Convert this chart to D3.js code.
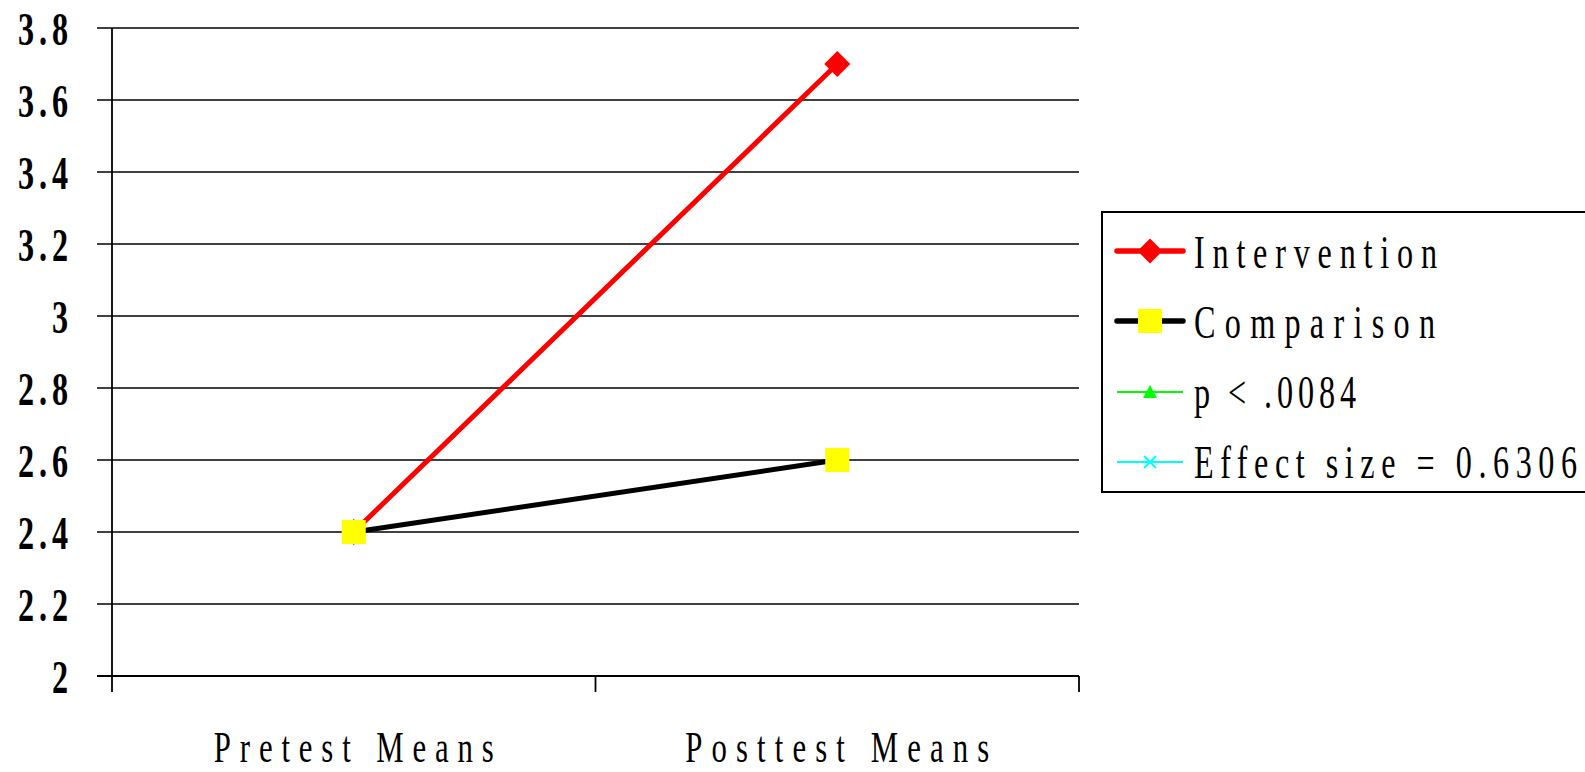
<!DOCTYPE html>
<html>
<head>
<meta charset="utf-8">
<script src="https://cdn.jsdelivr.net/npm/d3@7/dist/d3.min.js"></script>
<style>
  html, body { margin: 0; padding: 0; background: #fff; }
  svg { display: block; }
  text { font-family: "Liberation Serif", "Times New Roman", serif; }
</style>
</head>
<body>
<svg id="chart" width="1585" height="772"></svg>
<script>
// ---- data ----
const categories = ["Pretest Means", "Posttest Means"];
const intervention = [2.4, 3.7];
const comparison = [2.4, 2.6];
const yTicks = [2, 2.2, 2.4, 2.6, 2.8, 3, 3.2, 3.4, 3.6, 3.8];
const yTickLabels = ["2", "2.2", "2.4", "2.6", "2.8", "3", "3.2", "3.4", "3.6", "3.8"];
const legendLabels = ["Intervention", "Comparison", "p  < .0084", "Effect size = 0.6306"];

// ---- layout ----
const plot = { left: 112, right: 1079, top: 28, bottom: 676 };
const sx = 0.7; // horizontal compression of the text
const legendTextWidths = [243, 241, 162, 383];
const xLabelWidths = [280, 304];

const svg = d3.select("#chart");

const x = d3.scaleBand().domain(categories).range([plot.left, plot.right]).paddingInner(0).paddingOuter(0);
const y = d3.scaleLinear().domain([2, 3.8]).range([plot.bottom, plot.top]);
const cx = c => x(c) + x.bandwidth() / 2;

// gridlines + y ticks
svg.append("g").selectAll("line").data(yTicks).join("line")
  .attr("x1", plot.left - 15).attr("x2", plot.right)
  .attr("y1", d => y(d)).attr("y2", d => y(d))
  .attr("stroke", "#000").attr("stroke-width", d => d === 2 ? 2.2 : 1.7);

// y axis line
svg.append("line")
  .attr("x1", plot.left).attr("x2", plot.left)
  .attr("y1", plot.top).attr("y2", plot.bottom + 16)
  .attr("stroke", "#000").attr("stroke-width", 1.8);

// x ticks at category boundaries
const xBounds = categories.map(c => x(c)).concat([x(categories[categories.length - 1]) + x.bandwidth()]);
svg.append("g").selectAll("line").data(xBounds.slice(1)).join("line")
  .attr("x1", d => d).attr("x2", d => d)
  .attr("y1", plot.bottom).attr("y2", plot.bottom + 16)
  .attr("stroke", "#000").attr("stroke-width", 1.8);

// y labels
svg.append("g").selectAll("text").data(yTicks).join("text")
  .attr("transform", d => `translate(${68 + 5},${y(d) + 17}) scale(${sx},1)`)
  .attr("text-anchor", "end")
  .attr("font-size", 46).attr("font-weight", "bold")
  .attr("letter-spacing", 7)
  .text((d, i) => yTickLabels[i]);

// x labels
svg.append("g").selectAll("text").data(categories).join("text")
  .attr("transform", d => `translate(${cx(d)},762) scale(${sx},1)`)
  .attr("text-anchor", "middle")
  .attr("font-size", 44)
  .attr("textLength", (d, i) => xLabelWidths[i] / sx)
  .attr("lengthAdjust", "spacing")
  .text(d => d);

// series
const line = d3.line().x((d, i) => cx(categories[i])).y(d => y(d));
function diamondPath(s) { return `M0,${-s}L${s},0L0,${s}L${-s},0Z`; }

// Intervention
svg.append("path").datum(intervention).attr("d", line)
  .attr("fill", "none").attr("stroke", "#ff0000").attr("stroke-width", 5);
svg.append("g").selectAll("path").data(intervention).join("path")
  .attr("transform", (d, i) => `translate(${cx(categories[i])},${y(d)})`)
  .attr("d", diamondPath(13)).attr("fill", "#ff0000");

// Comparison
svg.append("path").datum(comparison).attr("d", line)
  .attr("fill", "none").attr("stroke", "#000").attr("stroke-width", 5);
svg.append("g").selectAll("rect").data(comparison).join("rect")
  .attr("x", (d, i) => cx(categories[i]) - 12).attr("y", d => y(d) - 12)
  .attr("width", 24).attr("height", 24).attr("fill", "#ffff00");

// legend
const lg = svg.append("g");
lg.append("rect").attr("x", 1102).attr("y", 212).attr("width", 600).attr("height", 280)
  .attr("fill", "#fff").attr("stroke", "#000").attr("stroke-width", 2);

const rowBase = i => 268 + 70 * i;
const mk = i => rowBase(i) - 17;
const lx1 = 1117, lx2 = 1183, lmid = 1150;

// Intervention entry
lg.append("line").attr("x1", lx1).attr("x2", lx2).attr("y1", mk(0)).attr("y2", mk(0))
  .attr("stroke", "#ff0000").attr("stroke-width", 5.5).attr("stroke-linecap", "round");
lg.append("path").attr("transform", `translate(${lmid},${mk(0)})`).attr("d", diamondPath(12.5)).attr("fill", "#ff0000");
// Comparison entry
lg.append("line").attr("x1", lx1).attr("x2", lx2).attr("y1", mk(1)).attr("y2", mk(1))
  .attr("stroke", "#000").attr("stroke-width", 5.5).attr("stroke-linecap", "round");
lg.append("rect").attr("x", lmid - 12).attr("y", mk(1) - 12).attr("width", 24).attr("height", 24).attr("fill", "#ffff00");
// p entry
lg.append("line").attr("x1", lx1).attr("x2", lx2).attr("y1", mk(2) + 1).attr("y2", mk(2) + 1)
  .attr("stroke", "#00ff00").attr("stroke-width", 2);
lg.append("path").attr("transform", `translate(${lmid},${mk(2) + 1})`)
  .attr("d", "M0,-7L7,6L-7,6Z").attr("fill", "#00ff00");
// Effect size entry
lg.append("line").attr("x1", lx1).attr("x2", lx2).attr("y1", mk(3) + 1).attr("y2", mk(3) + 1)
  .attr("stroke", "#00ffff").attr("stroke-width", 2);
lg.append("path").attr("transform", `translate(${lmid},${mk(3) + 1})`)
  .attr("d", "M-6,-6L6,6M-6,6L6,-6").attr("stroke", "#00ffff").attr("stroke-width", 2).attr("fill", "none");

lg.selectAll("text.leg").data(legendLabels).join("text").attr("class", "leg")
  .attr("transform", (d, i) => `translate(1194,${rowBase(i)}) scale(${sx},1)`)
  .attr("font-size", 46)
  .attr("textLength", (d, i) => legendTextWidths[i] / sx)
  .attr("lengthAdjust", "spacing")
  .text(d => d);
</script>
</body>
</html>
